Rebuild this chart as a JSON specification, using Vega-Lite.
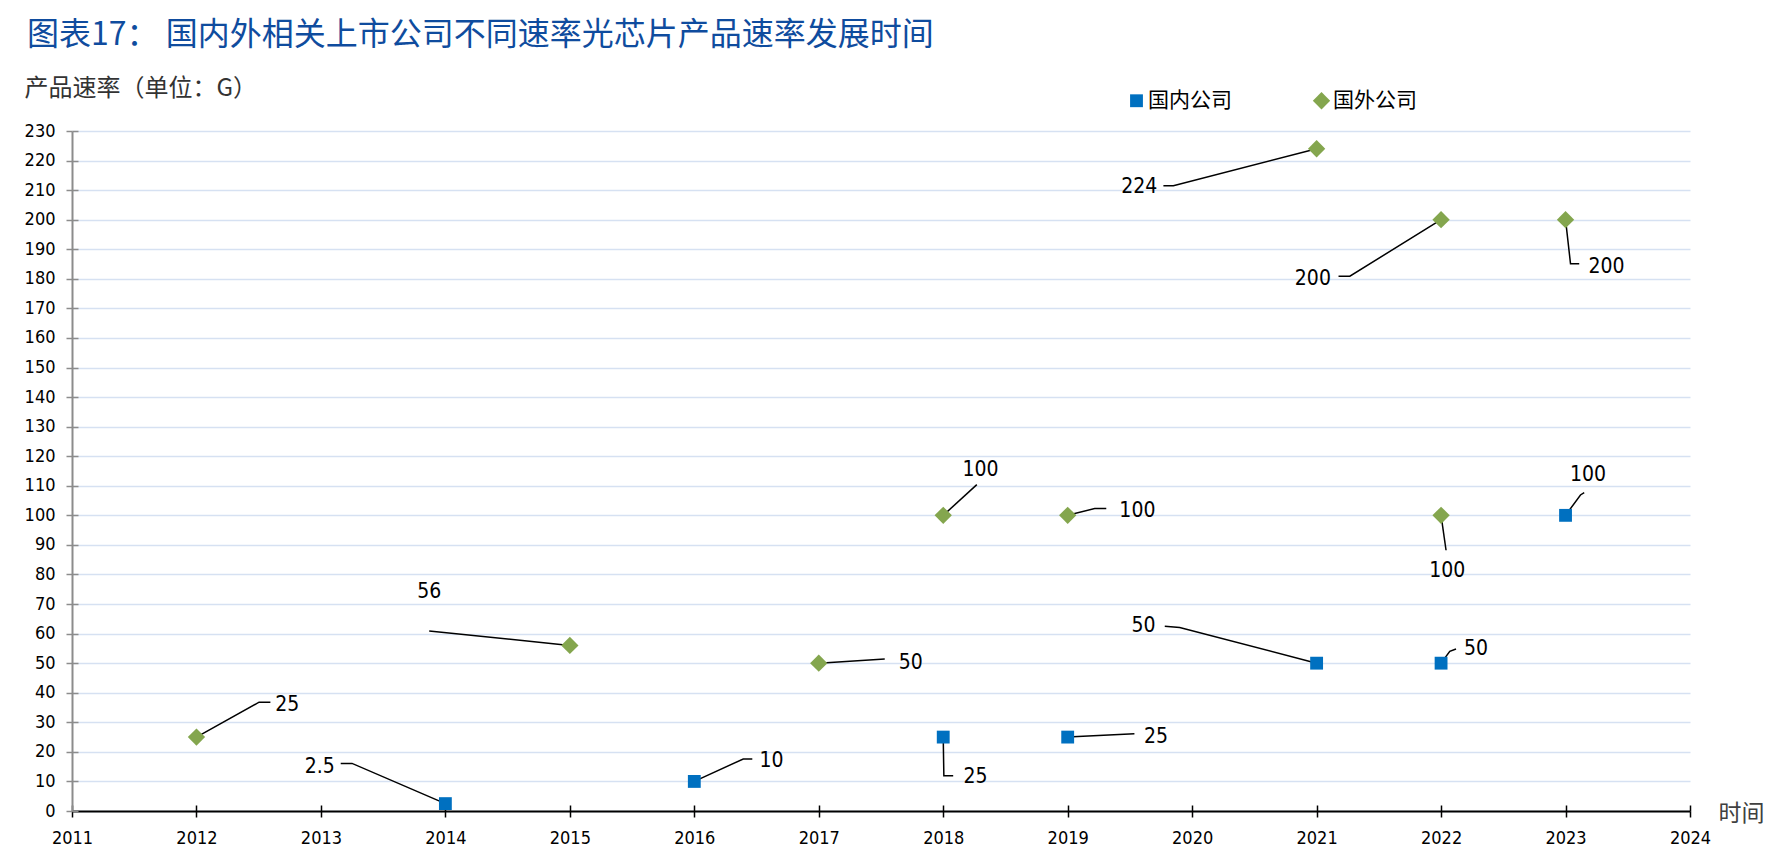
{
  "$schema": "https://vega.github.io/schema/vega-lite/v6.json",
  "width": 1618,
  "height": 680,
  "autosize": "none",
  "padding": {"left": 72, "top": 131, "right": 89, "bottom": 56},
  "background": "white",
  "title": {
    "text": "图表17： 国内外相关上市公司不同速率光芯片产品速率发展时间",
    "anchor": "start",
    "frame": "group",
    "orient": "top",
    "baseline": "bottom",
    "offset": -8,
    "dx": -45,
    "font": "Noto Sans CJK SC",
    "fontSize": 32,
    "fontWeight": "normal",
    "color": "#0F4C9E"
  },
  "datasets": {
    "points": [
      {"x": 2014, "y": 2.5, "g": "国内公司"},
      {"x": 2016, "y": 10, "g": "国内公司"},
      {"x": 2018, "y": 25, "g": "国内公司"},
      {"x": 2019, "y": 25, "g": "国内公司"},
      {"x": 2021, "y": 50, "g": "国内公司"},
      {"x": 2022, "y": 50, "g": "国内公司"},
      {"x": 2023, "y": 100, "g": "国内公司"},
      {"x": 2012, "y": 25, "g": "国外公司"},
      {"x": 2015, "y": 56, "g": "国外公司"},
      {"x": 2017, "y": 50, "g": "国外公司"},
      {"x": 2018, "y": 100, "g": "国外公司"},
      {"x": 2019, "y": 100, "g": "国外公司"},
      {"x": 2021, "y": 224, "g": "国外公司"},
      {"x": 2022, "y": 200, "g": "国外公司"},
      {"x": 2022, "y": 100, "g": "国外公司"},
      {"x": 2023, "y": 200, "g": "国外公司"}
    ],
    "leaders": [
      {"id": 1, "s": 1, "x": 2012, "y": 25},
      {"id": 1, "s": 2, "x": 2012.503, "y": 36.8},
      {"id": 1, "s": 3, "x": 2012.594, "y": 36.8},
      {"id": 2, "s": 1, "x": 2014, "y": 2.5},
      {"id": 2, "s": 2, "x": 2013.25, "y": 16.1},
      {"id": 2, "s": 3, "x": 2013.159, "y": 16.1},
      {"id": 3, "s": 1, "x": 2016, "y": 10},
      {"id": 3, "s": 2, "x": 2016.393, "y": 17.6},
      {"id": 3, "s": 3, "x": 2016.466, "y": 17.6},
      {"id": 4, "s": 1, "x": 2015, "y": 56},
      {"id": 4, "s": 2, "x": 2013.87, "y": 60.9},
      {"id": 5, "s": 1, "x": 2017, "y": 50},
      {"id": 5, "s": 2, "x": 2017.53, "y": 51.4},
      {"id": 6, "s": 1, "x": 2018, "y": 25},
      {"id": 6, "s": 2, "x": 2018.005, "y": 11.9},
      {"id": 6, "s": 3, "x": 2018.08, "y": 11.9},
      {"id": 7, "s": 1, "x": 2018, "y": 100},
      {"id": 7, "s": 2, "x": 2018.27, "y": 110.4},
      {"id": 8, "s": 1, "x": 2019, "y": 100},
      {"id": 8, "s": 2, "x": 2019.217, "y": 102.3},
      {"id": 8, "s": 3, "x": 2019.31, "y": 102.3},
      {"id": 9, "s": 1, "x": 2019, "y": 25},
      {"id": 9, "s": 2, "x": 2019.536, "y": 26.1},
      {"id": 10, "s": 1, "x": 2021, "y": 224},
      {"id": 10, "s": 2, "x": 2019.849, "y": 211.5},
      {"id": 10, "s": 3, "x": 2019.769, "y": 211.5},
      {"id": 11, "s": 1, "x": 2021, "y": 50},
      {"id": 11, "s": 2, "x": 2019.9, "y": 62.1},
      {"id": 11, "s": 3, "x": 2019.78, "y": 62.5},
      {"id": 12, "s": 1, "x": 2022, "y": 200},
      {"id": 12, "s": 2, "x": 2021.267, "y": 180.9},
      {"id": 12, "s": 3, "x": 2021.176, "y": 180.9},
      {"id": 13, "s": 1, "x": 2022, "y": 100},
      {"id": 13, "s": 2, "x": 2022.04, "y": 88.2},
      {"id": 14, "s": 1, "x": 2022, "y": 50},
      {"id": 14, "s": 2, "x": 2022.07, "y": 54.0},
      {"id": 14, "s": 3, "x": 2022.12, "y": 54.8},
      {"id": 15, "s": 1, "x": 2023, "y": 200},
      {"id": 15, "s": 2, "x": 2023.04, "y": 185.1},
      {"id": 15, "s": 3, "x": 2023.11, "y": 185.1},
      {"id": 16, "s": 1, "x": 2023, "y": 100},
      {"id": 16, "s": 2, "x": 2023.12, "y": 106.9},
      {"id": 16, "s": 3, "x": 2023.15, "y": 107.7}
    ],
    "labels": [
      {"x": 2012.73, "y": 36.0, "t": "25"},
      {"x": 2012.99, "y": 14.9, "t": "2.5"},
      {"x": 2016.62, "y": 16.9, "t": "10"},
      {"x": 2013.87, "y": 74.0, "t": "56"},
      {"x": 2017.74, "y": 50.2, "t": "50"},
      {"x": 2018.26, "y": 11.5, "t": "25"},
      {"x": 2018.30, "y": 115.4, "t": "100"},
      {"x": 2019.56, "y": 101.6, "t": "100"},
      {"x": 2019.71, "y": 24.9, "t": "25"},
      {"x": 2019.575, "y": 211.2, "t": "224"},
      {"x": 2019.61, "y": 62.5, "t": "50"},
      {"x": 2020.97, "y": 179.8, "t": "200"},
      {"x": 2022.05, "y": 81.3, "t": "100"},
      {"x": 2022.28, "y": 54.8, "t": "50"},
      {"x": 2023.33, "y": 184.0, "t": "200"},
      {"x": 2023.18, "y": 113.8, "t": "100"}
    ]
  },
  "layer": [
    {
      "encoding": {
        "x": {
          "field": "x",
          "type": "quantitative",
          "scale": {"domain": [2011, 2024], "nice": false, "zero": false},
          "axis": {
            "orient": "bottom",
            "values": [2011, 2012, 2013, 2014, 2015, 2016, 2017, 2018, 2019, 2020, 2021, 2022, 2023, 2024],
            "format": "d",
            "grid": false,
            "domainColor": "#000000",
            "domainWidth": 2,
            "tickColor": "#000000",
            "tickWidth": 1.5,
            "tickSize": 6,
            "labelPadding": 12,
            "labelFont": "DejaVu Sans Condensed",
            "labelFontSize": 18,
            "labelColor": "#000000",
            "labelFlush": false,
            "title": "时间",
            "titleX": 1646,
            "titleY": 2,
            "titleAlign": "left",
            "titleBaseline": "middle",
            "titleAngle": 0,
            "titleFont": "Noto Sans CJK SC",
            "titleFontSize": 23,
            "titleFontWeight": "normal",
            "titleColor": "#404040"
          }
        },
        "y": {
          "field": "y",
          "type": "quantitative",
          "scale": {"domain": [0, 230], "nice": false},
          "axis": {
            "orient": "left",
            "values": [0, 10, 20, 30, 40, 50, 60, 70, 80, 90, 100, 110, 120, 130, 140, 150, 160, 170, 180, 190, 200, 210, 220, 230],
            "grid": true,
            "gridColor": "#D6E1F2",
            "gridWidth": 1.5,
            "domainColor": "#8C8C8C",
            "domainWidth": 2,
            "tickColor": "#8C8C8C",
            "tickWidth": 1.5,
            "tickSize": 6,
            "labelPadding": 11,
            "labelFont": "DejaVu Sans Condensed",
            "labelFontSize": 18,
            "labelColor": "#000000",
            "labelFlush": false,
            "title": "产品速率（单位：G）",
            "titleX": -48,
            "titleY": -43,
            "titleAlign": "left",
            "titleBaseline": "middle",
            "titleAngle": 0,
            "titleFont": "Noto Sans CJK SC",
            "titleFontSize": 24,
            "titleFontWeight": "normal",
            "titleColor": "#333333"
          }
        }
      },
      "layer": [
        {
          "data": {"name": "leaders"},
          "mark": {"type": "line", "color": "#000000", "strokeWidth": 1.5},
          "encoding": {
            "detail": {"field": "id", "type": "nominal"},
            "order": {"field": "s", "type": "quantitative"}
          }
        },
        {
          "data": {"name": "points"},
          "mark": {"type": "point", "filled": true, "opacity": 1},
          "encoding": {
            "color": {
              "field": "g",
              "type": "nominal",
              "scale": {"domain": ["国内公司", "国外公司"], "range": ["#0070C0", "#84A64E"]},
              "legend": {
                "title": null,
                "orient": "none",
                "direction": "horizontal",
                "legendX": 1054,
                "legendY": -41,
                "padding": 0,
                "symbolSize": 170,
                "labelFont": "Noto Sans CJK SC",
                "labelFontSize": 21,
                "labelColor": "#000000",
                "labelOffset": 1,
                "columnPadding": 79
              }
            },
            "shape": {
              "field": "g",
              "type": "nominal",
              "scale": {"domain": ["国内公司", "国外公司"], "range": ["square", "diamond"]},
              "legend": {
                "title": null,
                "orient": "none",
                "direction": "horizontal",
                "legendX": 1054,
                "legendY": -41,
                "padding": 0,
                "symbolSize": 170,
                "labelFont": "Noto Sans CJK SC",
                "labelFontSize": 21,
                "labelColor": "#000000",
                "labelOffset": 1,
                "columnPadding": 79
              }
            },
            "size": {
              "field": "g",
              "type": "nominal",
              "scale": {"domain": ["国内公司", "国外公司"], "range": [165, 300]},
              "legend": null
            }
          }
        },
        {
          "data": {"name": "labels"},
          "mark": {
            "type": "text",
            "align": "center",
            "baseline": "middle",
            "font": "DejaVu Sans Condensed",
            "fontSize": 21,
            "color": "#000000"
          },
          "encoding": {
            "text": {"field": "t", "type": "nominal"}
          }
        }
      ]
    },
    {
      "data": {"name": "points"},
      "mark": {"type": "point", "opacity": 0},
      "encoding": {
        "x": {
          "field": "x",
          "type": "quantitative",
          "scale": {"domain": [2011, 2024], "nice": false, "zero": false},
          "axis": {
            "orient": "top",
            "offset": -680,
            "values": [2011, 2012, 2013, 2014, 2015, 2016, 2017, 2018, 2019, 2020, 2021, 2022, 2023, 2024],
            "labels": false,
            "domain": false,
            "grid": false,
            "tickColor": "#000000",
            "tickWidth": 1.5,
            "tickSize": 6,
            "title": null
          }
        },
        "y": {
          "field": "y",
          "type": "quantitative",
          "scale": {"domain": [0, 230], "nice": false},
          "axis": {
            "orient": "right",
            "offset": -1618,
            "values": [0, 10, 20, 30, 40, 50, 60, 70, 80, 90, 100, 110, 120, 130, 140, 150, 160, 170, 180, 190, 200, 210, 220, 230],
            "labels": false,
            "domain": false,
            "grid": false,
            "tickColor": "#8C8C8C",
            "tickWidth": 1.5,
            "tickSize": 6,
            "title": null
          }
        }
      }
    }
  ],
  "resolve": {"axis": {"x": "independent", "y": "independent"}},
  "config": {
    "view": {"stroke": null}
  }
}
